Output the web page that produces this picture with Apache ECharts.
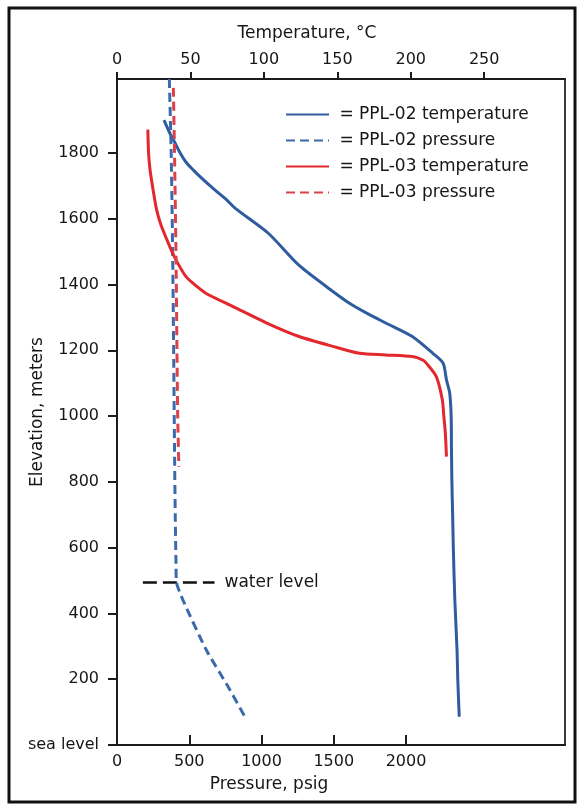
<!DOCTYPE html>
<html>
<head>
<meta charset="utf-8">
<script src="https://cdn.jsdelivr.net/npm/echarts@6.0.0/dist/echarts.min.js"></script>
<style>
  html, body { margin: 0; padding: 0; background: #fff; }
  #chart-container { width: 577px; height: 805px; }
</style>
</head>
<body>
<div id="chart-container"></div>
<script>
// elevation in meters, temperature in deg C, pressure in psig
const ppl02TempElev = [1900, 1860, 1835, 1800, 1772, 1748, 1722, 1690, 1658, 1630, 1556, 1458, 1379, 1344, 1313, 1283, 1242, 1191, 1161, 1110, 1070, 1000, 900, 800, 700, 593, 441, 289, 200, 86];
const ppl02Temp = [32, 36, 39, 43, 47, 52, 58, 66, 74.5, 81, 103, 124, 147, 158, 170, 183, 201, 215, 222, 224.3, 226.5, 227.5, 227.7, 228, 228.5, 229, 230, 231.5, 232, 233];

const ppl02PresElev = [2025, 1800, 1500, 1200, 900, 700, 560, 494, 441, 289, 180, 78];
const ppl02Pres = [362, 375, 385, 392, 398, 403, 408, 412, 456, 618, 765, 895];

const ppl03TempElev = [1871, 1800, 1749, 1690, 1627, 1580, 1536, 1485, 1424, 1392, 1372, 1333, 1283, 1242, 1212, 1191, 1186, 1181, 1171, 1161, 1120, 1049, 1000, 950, 877];
const ppl03Temp = [21, 21.5, 22.5, 24.5, 27, 30, 34, 39, 47, 55, 61, 79, 102, 124, 147, 165, 183, 201, 208, 210.6, 217.4, 221.5, 222.5, 223.5, 224.3];

const ppl03PresElev = [1998, 1800, 1500, 1200, 1000, 846];
const ppl03Pres = [390, 398, 408, 415, 420, 428];

const waterLevel = 494;
const waterLevelSpan = [179, 675];

const elevTicks = [0, 200, 400, 600, 800, 1000, 1200, 1400, 1600, 1800];
const tempTicks = [0, 50, 100, 150, 200, 250];
const presTicks = [0, 500, 1000, 1500, 2000];

const seriesNames = ['PPL-02 temperature', 'PPL-02 pressure', 'PPL-03 temperature', 'PPL-03 pressure'];

function pairs(xs, ys) {
  return xs.map((x, i) => [x, ys[i]]);
}

const blue = '#2e5c9e';
const blueDash = '#3a6aab';
const red = '#e2272d';
const redDash = '#dc4049';
const ink = '#1c1c1c';
const textInk = '#161616';
const font = 'DejaVu Sans';

let dom = document.getElementById('chart-container');
let myChart = echarts.init(dom, null, { renderer: 'canvas' });

let option = {
  animation: false,
  textStyle: { fontFamily: font },
  grid: {
    left: 117, right: 12, top: 79, bottom: 60,
    show: true, borderColor: '#3a3a3a', borderWidth: 2
  },
  legend: {
    data: seriesNames,
    orient: 'vertical',
    left: 285,
    top: 106,
    padding: 0,
    itemWidth: 43,
    itemHeight: 14,
    itemGap: 9,
    itemStyle: { opacity: 0 },
    formatter: ' = {name}',
    textStyle: { fontSize: 17, color: textInk, fontFamily: font }
  },
  xAxis: [
    {
      type: 'value',
      position: 'bottom',
      min: 0, max: 3100,
      axisLine: { show: true, onZero: false, lineStyle: { color: ink, width: 2 } },
      axisTick: { show: true, inside: true, length: 10, customValues: presTicks, lineStyle: { color: ink, width: 2 } },
      axisLabel: { customValues: presTicks, margin: 9, fontSize: 16, color: textInk, formatter: v => String(v) },
      splitLine: { show: false }
    },
    {
      type: 'value',
      position: 'top',
      min: 0, max: 305,
      axisLine: { show: true, onZero: false, lineStyle: { color: ink, width: 2 } },
      axisTick: { show: true, length: 7, customValues: tempTicks, lineStyle: { color: ink, width: 2 } },
      axisLabel: { customValues: tempTicks, margin: 11, fontSize: 16, color: textInk, formatter: v => String(v) },
      splitLine: { show: false }
    }
  ],
  yAxis: {
    type: 'value',
    min: 0, max: 2025,
    name: 'Elevation, meters',
    nameLocation: 'middle',
    nameRotate: 90,
    nameGap: 71,
    nameMoveOverlap: false,
    nameTextStyle: { fontSize: 17, color: textInk },
    axisLine: { show: true, onZero: false, lineStyle: { color: ink, width: 2 } },
    axisTick: { show: true, length: 9, customValues: elevTicks, lineStyle: { color: ink, width: 2 } },
    axisLabel: {
      customValues: elevTicks, margin: 18, fontSize: 16, color: textInk,
      formatter: v => (v === 0 ? 'sea level' : String(v))
    },
    splitLine: { show: false }
  },
  graphic: [
    {
      type: 'rect', silent: true,
      shape: { x: 9, y: 8, width: 566, height: 794 },
      style: { fill: 'none', stroke: '#111', lineWidth: 3 }
    },
    {
      type: 'text', x: 307, y: 34, silent: true,
      style: { text: 'Temperature, °C', font: '17px "DejaVu Sans"', fill: textInk, align: 'center', verticalAlign: 'middle', textAlign: 'center', textVerticalAlign: 'middle' }
    },
    {
      type: 'text', x: 269, y: 785, silent: true,
      style: { text: 'Pressure, psig', font: '17px "DejaVu Sans"', fill: textInk, align: 'center', verticalAlign: 'middle', textAlign: 'center', textVerticalAlign: 'middle' }
    }
  ],
  series: [
    {
      name: seriesNames[0], type: 'line', xAxisIndex: 1, yAxisIndex: 0,
      data: pairs(ppl02Temp, ppl02TempElev),
      symbol: 'none', smooth: 0.25,
      lineStyle: { color: blue, width: 3 }, itemStyle: { color: blue }
    },
    {
      name: seriesNames[1], type: 'line', xAxisIndex: 0, yAxisIndex: 0,
      data: pairs(ppl02Pres, ppl02PresElev),
      symbol: 'none', smooth: 0.2,
      lineStyle: { color: blueDash, width: 3, type: [9, 5] }, itemStyle: { color: blueDash }
    },
    {
      name: seriesNames[2], type: 'line', xAxisIndex: 1, yAxisIndex: 0,
      data: pairs(ppl03Temp, ppl03TempElev),
      symbol: 'none', smooth: 0.25,
      lineStyle: { color: red, width: 3 }, itemStyle: { color: red }
    },
    {
      name: seriesNames[3], type: 'line', xAxisIndex: 0, yAxisIndex: 0,
      data: pairs(ppl03Pres, ppl03PresElev),
      symbol: 'none', smooth: 0.2,
      lineStyle: { color: redDash, width: 3, type: [9, 5] }, itemStyle: { color: redDash }
    },
    {
      name: 'water level', type: 'line', xAxisIndex: 0, yAxisIndex: 0,
      data: waterLevelSpan.map(p => [p, waterLevel]),
      symbol: 'none',
      lineStyle: { color: '#111', width: 2.5, type: [14, 6] },
      endLabel: { show: true, formatter: 'water level', distance: 10, fontSize: 17, color: textInk },
      z: 1
    }
  ]
};

if (option && typeof option === 'object') {
  myChart.setOption(option);
}

window.addEventListener('resize', myChart.resize);
</script>
</body>
</html>
